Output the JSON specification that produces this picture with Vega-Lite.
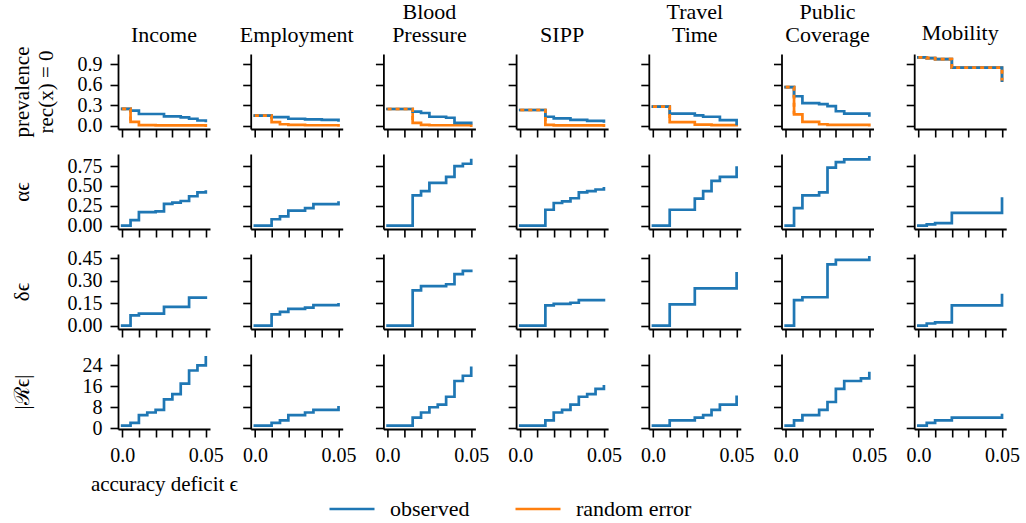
{
"$schema":"https://vega.github.io/schema/vega-lite/v6.json",
"padding":{"left":11,"top":1,"right":5,"bottom":3},
"autosize":{"type":"pad"},
"bounds":"flush",
"columns":7,
"spacing":{"row":25,"column":40.7},
"resolve":{"scale":{"x":"independent","y":"independent","color":"shared"}},
"data":{"values":[
{"d":"Income","m":"prev","s":"observed","x":0,"y":0.245},{"d":"Income","m":"prev","s":"observed","x":0.005,"y":0.22},{"d":"Income","m":"prev","s":"observed","x":0.01,"y":0.17},{"d":"Income","m":"prev","s":"observed","x":0.025,"y":0.135},{"d":"Income","m":"prev","s":"observed","x":0.035,"y":0.12},{"d":"Income","m":"prev","s":"observed","x":0.04,"y":0.1},{"d":"Income","m":"prev","s":"observed","x":0.045,"y":0.075},{"d":"Income","m":"prev","s":"observed","x":0.05,"y":0.07},
{"d":"Employment","m":"prev","s":"observed","x":0,"y":0.146},{"d":"Employment","m":"prev","s":"observed","x":0.01,"y":0.125},{"d":"Employment","m":"prev","s":"observed","x":0.02,"y":0.1},{"d":"Employment","m":"prev","s":"observed","x":0.03,"y":0.09},{"d":"Employment","m":"prev","s":"observed","x":0.04,"y":0.085},{"d":"Employment","m":"prev","s":"observed","x":0.05,"y":0.075},
{"d":"Blood Pressure","m":"prev","s":"observed","x":0,"y":0.243},{"d":"Blood Pressure","m":"prev","s":"observed","x":0.015,"y":0.205},{"d":"Blood Pressure","m":"prev","s":"observed","x":0.02,"y":0.185},{"d":"Blood Pressure","m":"prev","s":"observed","x":0.025,"y":0.13},{"d":"Blood Pressure","m":"prev","s":"observed","x":0.035,"y":0.115},{"d":"Blood Pressure","m":"prev","s":"observed","x":0.04,"y":0.04},{"d":"Blood Pressure","m":"prev","s":"observed","x":0.05,"y":0.035},
{"d":"SIPP","m":"prev","s":"observed","x":0,"y":0.229},{"d":"SIPP","m":"prev","s":"observed","x":0.015,"y":0.13},{"d":"SIPP","m":"prev","s":"observed","x":0.02,"y":0.105},{"d":"SIPP","m":"prev","s":"observed","x":0.03,"y":0.085},{"d":"SIPP","m":"prev","s":"observed","x":0.04,"y":0.07},{"d":"SIPP","m":"prev","s":"observed","x":0.05,"y":0.06},
{"d":"Travel Time","m":"prev","s":"observed","x":0,"y":0.277},{"d":"Travel Time","m":"prev","s":"observed","x":0.01,"y":0.175},{"d":"Travel Time","m":"prev","s":"observed","x":0.025,"y":0.15},{"d":"Travel Time","m":"prev","s":"observed","x":0.03,"y":0.13},{"d":"Travel Time","m":"prev","s":"observed","x":0.04,"y":0.08},{"d":"Travel Time","m":"prev","s":"observed","x":0.05,"y":0.025},
{"d":"Public Coverage","m":"prev","s":"observed","x":0,"y":0.564},{"d":"Public Coverage","m":"prev","s":"observed","x":0.005,"y":0.43},{"d":"Public Coverage","m":"prev","s":"observed","x":0.01,"y":0.33},{"d":"Public Coverage","m":"prev","s":"observed","x":0.02,"y":0.315},{"d":"Public Coverage","m":"prev","s":"observed","x":0.025,"y":0.285},{"d":"Public Coverage","m":"prev","s":"observed","x":0.03,"y":0.21},{"d":"Public Coverage","m":"prev","s":"observed","x":0.035,"y":0.175},{"d":"Public Coverage","m":"prev","s":"observed","x":0.05,"y":0.15},
{"d":"Mobility","m":"prev","s":"observed","x":0,"y":1.0},{"d":"Mobility","m":"prev","s":"observed","x":0.005,"y":0.99},{"d":"Mobility","m":"prev","s":"observed","x":0.01,"y":0.975},{"d":"Mobility","m":"prev","s":"observed","x":0.02,"y":0.85},{"d":"Mobility","m":"prev","s":"observed","x":0.05,"y":0.66},
{"d":"Income","m":"prev","s":"random error","x":0,"y":0.245,"b":1},{"d":"Income","m":"prev","s":"random error","x":0.005,"y":0.055,"b":1},{"d":"Income","m":"prev","s":"random error","x":0.01,"y":0.008},{"d":"Income","m":"prev","s":"random error","x":0.02,"y":0.002},{"d":"Income","m":"prev","s":"random error","x":0.05,"y":0.0},
{"d":"Employment","m":"prev","s":"random error","x":0,"y":0.146,"b":1},{"d":"Employment","m":"prev","s":"random error","x":0.01,"y":0.05,"b":1},{"d":"Employment","m":"prev","s":"random error","x":0.015,"y":0.02},{"d":"Employment","m":"prev","s":"random error","x":0.02,"y":0.01},{"d":"Employment","m":"prev","s":"random error","x":0.03,"y":0.005},{"d":"Employment","m":"prev","s":"random error","x":0.05,"y":0.003},
{"d":"Blood Pressure","m":"prev","s":"random error","x":0,"y":0.243,"b":1},{"d":"Blood Pressure","m":"prev","s":"random error","x":0.015,"y":0.04,"b":1},{"d":"Blood Pressure","m":"prev","s":"random error","x":0.02,"y":0.01},{"d":"Blood Pressure","m":"prev","s":"random error","x":0.025,"y":0.005},{"d":"Blood Pressure","m":"prev","s":"random error","x":0.05,"y":0.0},
{"d":"SIPP","m":"prev","s":"random error","x":0,"y":0.229,"b":1},{"d":"SIPP","m":"prev","s":"random error","x":0.015,"y":0.01,"b":1},{"d":"SIPP","m":"prev","s":"random error","x":0.02,"y":0.003},{"d":"SIPP","m":"prev","s":"random error","x":0.05,"y":0.0},
{"d":"Travel Time","m":"prev","s":"random error","x":0,"y":0.277,"b":1},{"d":"Travel Time","m":"prev","s":"random error","x":0.01,"y":0.05,"b":1},{"d":"Travel Time","m":"prev","s":"random error","x":0.025,"y":0.015},{"d":"Travel Time","m":"prev","s":"random error","x":0.035,"y":0.008},{"d":"Travel Time","m":"prev","s":"random error","x":0.05,"y":0.005},
{"d":"Public Coverage","m":"prev","s":"random error","x":0,"y":0.564,"b":1},{"d":"Public Coverage","m":"prev","s":"random error","x":0.005,"y":0.165,"b":1},{"d":"Public Coverage","m":"prev","s":"random error","x":0.01,"y":0.055},{"d":"Public Coverage","m":"prev","s":"random error","x":0.02,"y":0.02},{"d":"Public Coverage","m":"prev","s":"random error","x":0.025,"y":0.01},{"d":"Public Coverage","m":"prev","s":"random error","x":0.05,"y":0.005},
{"d":"Mobility","m":"prev","s":"random error","x":0,"y":1.0,"b":1},{"d":"Mobility","m":"prev","s":"random error","x":0.005,"y":0.99,"b":1},{"d":"Mobility","m":"prev","s":"random error","x":0.01,"y":0.975,"b":1},{"d":"Mobility","m":"prev","s":"random error","x":0.02,"y":0.85,"b":1},{"d":"Mobility","m":"prev","s":"random error","x":0.05,"y":0.66,"b":1},
{"d":"Income","m":"alpha","s":"observed","x":0,"y":0},{"d":"Income","m":"alpha","s":"observed","x":0.005,"y":0.07},{"d":"Income","m":"alpha","s":"observed","x":0.01,"y":0.17},{"d":"Income","m":"alpha","s":"observed","x":0.02,"y":0.18},{"d":"Income","m":"alpha","s":"observed","x":0.025,"y":0.275},{"d":"Income","m":"alpha","s":"observed","x":0.03,"y":0.29},{"d":"Income","m":"alpha","s":"observed","x":0.035,"y":0.31},{"d":"Income","m":"alpha","s":"observed","x":0.04,"y":0.37},{"d":"Income","m":"alpha","s":"observed","x":0.045,"y":0.42},{"d":"Income","m":"alpha","s":"observed","x":0.05,"y":0.43},
{"d":"Employment","m":"alpha","s":"observed","x":0,"y":0},{"d":"Employment","m":"alpha","s":"observed","x":0.01,"y":0.08},{"d":"Employment","m":"alpha","s":"observed","x":0.015,"y":0.115},{"d":"Employment","m":"alpha","s":"observed","x":0.02,"y":0.19},{"d":"Employment","m":"alpha","s":"observed","x":0.03,"y":0.22},{"d":"Employment","m":"alpha","s":"observed","x":0.035,"y":0.27},{"d":"Employment","m":"alpha","s":"observed","x":0.05,"y":0.29},
{"d":"Blood Pressure","m":"alpha","s":"observed","x":0,"y":0},{"d":"Blood Pressure","m":"alpha","s":"observed","x":0.015,"y":0.38},{"d":"Blood Pressure","m":"alpha","s":"observed","x":0.02,"y":0.435},{"d":"Blood Pressure","m":"alpha","s":"observed","x":0.025,"y":0.54},{"d":"Blood Pressure","m":"alpha","s":"observed","x":0.035,"y":0.615},{"d":"Blood Pressure","m":"alpha","s":"observed","x":0.04,"y":0.75},{"d":"Blood Pressure","m":"alpha","s":"observed","x":0.045,"y":0.78},{"d":"Blood Pressure","m":"alpha","s":"observed","x":0.05,"y":0.825},
{"d":"SIPP","m":"alpha","s":"observed","x":0,"y":0},{"d":"SIPP","m":"alpha","s":"observed","x":0.015,"y":0.2},{"d":"SIPP","m":"alpha","s":"observed","x":0.02,"y":0.285},{"d":"SIPP","m":"alpha","s":"observed","x":0.025,"y":0.305},{"d":"SIPP","m":"alpha","s":"observed","x":0.03,"y":0.345},{"d":"SIPP","m":"alpha","s":"observed","x":0.035,"y":0.42},{"d":"SIPP","m":"alpha","s":"observed","x":0.04,"y":0.435},{"d":"SIPP","m":"alpha","s":"observed","x":0.045,"y":0.455},{"d":"SIPP","m":"alpha","s":"observed","x":0.05,"y":0.47},
{"d":"Travel Time","m":"alpha","s":"observed","x":0,"y":0},{"d":"Travel Time","m":"alpha","s":"observed","x":0.01,"y":0.2},{"d":"Travel Time","m":"alpha","s":"observed","x":0.025,"y":0.34},{"d":"Travel Time","m":"alpha","s":"observed","x":0.03,"y":0.435},{"d":"Travel Time","m":"alpha","s":"observed","x":0.035,"y":0.565},{"d":"Travel Time","m":"alpha","s":"observed","x":0.04,"y":0.615},{"d":"Travel Time","m":"alpha","s":"observed","x":0.05,"y":0.73},
{"d":"Public Coverage","m":"alpha","s":"observed","x":0,"y":0},{"d":"Public Coverage","m":"alpha","s":"observed","x":0.005,"y":0.22},{"d":"Public Coverage","m":"alpha","s":"observed","x":0.01,"y":0.38},{"d":"Public Coverage","m":"alpha","s":"observed","x":0.02,"y":0.42},{"d":"Public Coverage","m":"alpha","s":"observed","x":0.025,"y":0.73},{"d":"Public Coverage","m":"alpha","s":"observed","x":0.03,"y":0.8},{"d":"Public Coverage","m":"alpha","s":"observed","x":0.035,"y":0.835},{"d":"Public Coverage","m":"alpha","s":"observed","x":0.05,"y":0.86},
{"d":"Mobility","m":"alpha","s":"observed","x":0,"y":0},{"d":"Mobility","m":"alpha","s":"observed","x":0.005,"y":0.015},{"d":"Mobility","m":"alpha","s":"observed","x":0.01,"y":0.03},{"d":"Mobility","m":"alpha","s":"observed","x":0.02,"y":0.16},{"d":"Mobility","m":"alpha","s":"observed","x":0.05,"y":0.34},
{"d":"Income","m":"delta","s":"observed","x":0,"y":0},{"d":"Income","m":"delta","s":"observed","x":0.005,"y":0.068},{"d":"Income","m":"delta","s":"observed","x":0.01,"y":0.08},{"d":"Income","m":"delta","s":"observed","x":0.025,"y":0.125},{"d":"Income","m":"delta","s":"observed","x":0.04,"y":0.187},{"d":"Income","m":"delta","s":"observed","x":0.05,"y":0.187},
{"d":"Employment","m":"delta","s":"observed","x":0,"y":0},{"d":"Employment","m":"delta","s":"observed","x":0.01,"y":0.075},{"d":"Employment","m":"delta","s":"observed","x":0.015,"y":0.092},{"d":"Employment","m":"delta","s":"observed","x":0.02,"y":0.112},{"d":"Employment","m":"delta","s":"observed","x":0.03,"y":0.12},{"d":"Employment","m":"delta","s":"observed","x":0.035,"y":0.137},{"d":"Employment","m":"delta","s":"observed","x":0.05,"y":0.142},
{"d":"Blood Pressure","m":"delta","s":"observed","x":0,"y":0},{"d":"Blood Pressure","m":"delta","s":"observed","x":0.015,"y":0.236},{"d":"Blood Pressure","m":"delta","s":"observed","x":0.02,"y":0.265},{"d":"Blood Pressure","m":"delta","s":"observed","x":0.035,"y":0.277},{"d":"Blood Pressure","m":"delta","s":"observed","x":0.04,"y":0.345},{"d":"Blood Pressure","m":"delta","s":"observed","x":0.045,"y":0.367},{"d":"Blood Pressure","m":"delta","s":"observed","x":0.05,"y":0.367},
{"d":"SIPP","m":"delta","s":"observed","x":0,"y":0},{"d":"SIPP","m":"delta","s":"observed","x":0.015,"y":0.135},{"d":"SIPP","m":"delta","s":"observed","x":0.02,"y":0.146},{"d":"SIPP","m":"delta","s":"observed","x":0.03,"y":0.153},{"d":"SIPP","m":"delta","s":"observed","x":0.035,"y":0.171},{"d":"SIPP","m":"delta","s":"observed","x":0.05,"y":0.171},
{"d":"Travel Time","m":"delta","s":"observed","x":0,"y":0},{"d":"Travel Time","m":"delta","s":"observed","x":0.01,"y":0.142},{"d":"Travel Time","m":"delta","s":"observed","x":0.025,"y":0.25},{"d":"Travel Time","m":"delta","s":"observed","x":0.05,"y":0.35},
{"d":"Public Coverage","m":"delta","s":"observed","x":0,"y":0},{"d":"Public Coverage","m":"delta","s":"observed","x":0.005,"y":0.171},{"d":"Public Coverage","m":"delta","s":"observed","x":0.01,"y":0.19},{"d":"Public Coverage","m":"delta","s":"observed","x":0.025,"y":0.41},{"d":"Public Coverage","m":"delta","s":"observed","x":0.03,"y":0.44},{"d":"Public Coverage","m":"delta","s":"observed","x":0.05,"y":0.457},
{"d":"Mobility","m":"delta","s":"observed","x":0,"y":0},{"d":"Mobility","m":"delta","s":"observed","x":0.005,"y":0.014},{"d":"Mobility","m":"delta","s":"observed","x":0.01,"y":0.022},{"d":"Mobility","m":"delta","s":"observed","x":0.02,"y":0.135},{"d":"Mobility","m":"delta","s":"observed","x":0.05,"y":0.205},
{"d":"Income","m":"R","s":"observed","x":0,"y":1},{"d":"Income","m":"R","s":"observed","x":0.005,"y":2},{"d":"Income","m":"R","s":"observed","x":0.01,"y":5},{"d":"Income","m":"R","s":"observed","x":0.015,"y":6},{"d":"Income","m":"R","s":"observed","x":0.02,"y":7},{"d":"Income","m":"R","s":"observed","x":0.025,"y":11},{"d":"Income","m":"R","s":"observed","x":0.03,"y":13},{"d":"Income","m":"R","s":"observed","x":0.035,"y":17},{"d":"Income","m":"R","s":"observed","x":0.04,"y":22},{"d":"Income","m":"R","s":"observed","x":0.045,"y":24},{"d":"Income","m":"R","s":"observed","x":0.05,"y":27},
{"d":"Employment","m":"R","s":"observed","x":0,"y":1},{"d":"Employment","m":"R","s":"observed","x":0.01,"y":2},{"d":"Employment","m":"R","s":"observed","x":0.015,"y":3},{"d":"Employment","m":"R","s":"observed","x":0.02,"y":5},{"d":"Employment","m":"R","s":"observed","x":0.03,"y":6},{"d":"Employment","m":"R","s":"observed","x":0.035,"y":7},{"d":"Employment","m":"R","s":"observed","x":0.05,"y":8},
{"d":"Blood Pressure","m":"R","s":"observed","x":0,"y":1},{"d":"Blood Pressure","m":"R","s":"observed","x":0.015,"y":4},{"d":"Blood Pressure","m":"R","s":"observed","x":0.02,"y":6},{"d":"Blood Pressure","m":"R","s":"observed","x":0.025,"y":8},{"d":"Blood Pressure","m":"R","s":"observed","x":0.03,"y":9},{"d":"Blood Pressure","m":"R","s":"observed","x":0.035,"y":12},{"d":"Blood Pressure","m":"R","s":"observed","x":0.04,"y":18},{"d":"Blood Pressure","m":"R","s":"observed","x":0.045,"y":20},{"d":"Blood Pressure","m":"R","s":"observed","x":0.05,"y":23},
{"d":"SIPP","m":"R","s":"observed","x":0,"y":1},{"d":"SIPP","m":"R","s":"observed","x":0.015,"y":3},{"d":"SIPP","m":"R","s":"observed","x":0.02,"y":6},{"d":"SIPP","m":"R","s":"observed","x":0.025,"y":7},{"d":"SIPP","m":"R","s":"observed","x":0.03,"y":9},{"d":"SIPP","m":"R","s":"observed","x":0.035,"y":12},{"d":"SIPP","m":"R","s":"observed","x":0.04,"y":13},{"d":"SIPP","m":"R","s":"observed","x":0.045,"y":15},{"d":"SIPP","m":"R","s":"observed","x":0.05,"y":16},
{"d":"Travel Time","m":"R","s":"observed","x":0,"y":1},{"d":"Travel Time","m":"R","s":"observed","x":0.01,"y":3},{"d":"Travel Time","m":"R","s":"observed","x":0.025,"y":4},{"d":"Travel Time","m":"R","s":"observed","x":0.03,"y":5},{"d":"Travel Time","m":"R","s":"observed","x":0.035,"y":7},{"d":"Travel Time","m":"R","s":"observed","x":0.04,"y":9},{"d":"Travel Time","m":"R","s":"observed","x":0.05,"y":12},
{"d":"Public Coverage","m":"R","s":"observed","x":0,"y":1},{"d":"Public Coverage","m":"R","s":"observed","x":0.005,"y":3},{"d":"Public Coverage","m":"R","s":"observed","x":0.01,"y":5},{"d":"Public Coverage","m":"R","s":"observed","x":0.02,"y":7},{"d":"Public Coverage","m":"R","s":"observed","x":0.025,"y":10},{"d":"Public Coverage","m":"R","s":"observed","x":0.03,"y":15},{"d":"Public Coverage","m":"R","s":"observed","x":0.035,"y":18},{"d":"Public Coverage","m":"R","s":"observed","x":0.045,"y":19},{"d":"Public Coverage","m":"R","s":"observed","x":0.05,"y":21},
{"d":"Mobility","m":"R","s":"observed","x":0,"y":1},{"d":"Mobility","m":"R","s":"observed","x":0.005,"y":2},{"d":"Mobility","m":"R","s":"observed","x":0.01,"y":3},{"d":"Mobility","m":"R","s":"observed","x":0.02,"y":4},{"d":"Mobility","m":"R","s":"observed","x":0.05,"y":5}
]},
"concat":[
{"width":92,"height":75,"title":{"text":"Income","dy":8},"transform":[{"filter":"datum.d=='Income'&&datum.m=='prev'"}],
 "encoding":{"x":{"field":"x","type":"quantitative","scale":{"domain":[-0.0025,0.0525],"nice":false,"zero":false},"axis":{"values":[0,0.01,0.02,0.03,0.04,0.05],"labels":false,"title":null}},
  "y":{"field":"y","type":"quantitative","scale":{"domain":[-0.05,1.05],"nice":false,"zero":false},"axis":{"values":[0,0.3,0.6,0.9],"format":".1f","title":["prevalence","rec(x) = 0"],"titleX":-86}}},
 "layer":[
  {"transform":[{"filter":"datum.s=='random error'"}],"mark":"line","encoding":{"color":{"field":"s","type":"nominal","legend":{"orient":"none","legendX":210,"legendY":431,"direction":"horizontal","title":null}}}},
  {"transform":[{"filter":"datum.s=='observed'"}],"mark":"line","encoding":{"color":{"field":"s","type":"nominal","legend":{"orient":"none","legendX":210,"legendY":431,"direction":"horizontal","title":null}}}},
  {"transform":[{"filter":"datum.b==1"}],"mark":{"type":"line","color":"#ff7f0e","strokeDash":[4,4],"strokeCap":"butt"},"encoding":{}}]},
{"width":92,"height":75,"title":"Employment","transform":[{"filter":"datum.d=='Employment'&&datum.m=='prev'"}],
 "encoding":{"x":{"field":"x","type":"quantitative","scale":{"domain":[-0.0025,0.0525],"nice":false,"zero":false},"axis":{"values":[0,0.01,0.02,0.03,0.04,0.05],"labels":false,"title":null}},
  "y":{"field":"y","type":"quantitative","scale":{"domain":[-0.05,1.05],"nice":false,"zero":false},"axis":{"values":[0,0.3,0.6,0.9],"labels":false,"title":null}}},
 "layer":[
  {"transform":[{"filter":"datum.s=='random error'"}],"mark":"line","encoding":{"color":{"field":"s","type":"nominal"}}},
  {"transform":[{"filter":"datum.s=='observed'"}],"mark":"line","encoding":{"color":{"field":"s","type":"nominal"}}},
  {"transform":[{"filter":"datum.b==1"}],"mark":{"type":"line","color":"#ff7f0e","strokeDash":[4,4],"strokeCap":"butt"},"encoding":{}}]},
{"width":92,"height":75,"title":["Blood","Pressure"],"transform":[{"filter":"datum.d=='Blood Pressure'&&datum.m=='prev'"}],
 "encoding":{"x":{"field":"x","type":"quantitative","scale":{"domain":[-0.0025,0.0525],"nice":false,"zero":false},"axis":{"values":[0,0.01,0.02,0.03,0.04,0.05],"labels":false,"title":null}},
  "y":{"field":"y","type":"quantitative","scale":{"domain":[-0.05,1.05],"nice":false,"zero":false},"axis":{"values":[0,0.3,0.6,0.9],"labels":false,"title":null}}},
 "layer":[
  {"transform":[{"filter":"datum.s=='random error'"}],"mark":"line","encoding":{"color":{"field":"s","type":"nominal"}}},
  {"transform":[{"filter":"datum.s=='observed'"}],"mark":"line","encoding":{"color":{"field":"s","type":"nominal"}}},
  {"transform":[{"filter":"datum.b==1"}],"mark":{"type":"line","color":"#ff7f0e","strokeDash":[4,4],"strokeCap":"butt"},"encoding":{}}]},
{"width":92,"height":75,"title":"SIPP","transform":[{"filter":"datum.d=='SIPP'&&datum.m=='prev'"}],
 "encoding":{"x":{"field":"x","type":"quantitative","scale":{"domain":[-0.0025,0.0525],"nice":false,"zero":false},"axis":{"values":[0,0.01,0.02,0.03,0.04,0.05],"labels":false,"title":null}},
  "y":{"field":"y","type":"quantitative","scale":{"domain":[-0.05,1.05],"nice":false,"zero":false},"axis":{"values":[0,0.3,0.6,0.9],"labels":false,"title":null}}},
 "layer":[
  {"transform":[{"filter":"datum.s=='random error'"}],"mark":"line","encoding":{"color":{"field":"s","type":"nominal"}}},
  {"transform":[{"filter":"datum.s=='observed'"}],"mark":"line","encoding":{"color":{"field":"s","type":"nominal"}}},
  {"transform":[{"filter":"datum.b==1"}],"mark":{"type":"line","color":"#ff7f0e","strokeDash":[4,4],"strokeCap":"butt"},"encoding":{}}]},
{"width":92,"height":75,"title":["Travel","Time"],"transform":[{"filter":"datum.d=='Travel Time'&&datum.m=='prev'"}],
 "encoding":{"x":{"field":"x","type":"quantitative","scale":{"domain":[-0.0025,0.0525],"nice":false,"zero":false},"axis":{"values":[0,0.01,0.02,0.03,0.04,0.05],"labels":false,"title":null}},
  "y":{"field":"y","type":"quantitative","scale":{"domain":[-0.05,1.05],"nice":false,"zero":false},"axis":{"values":[0,0.3,0.6,0.9],"labels":false,"title":null}}},
 "layer":[
  {"transform":[{"filter":"datum.s=='random error'"}],"mark":"line","encoding":{"color":{"field":"s","type":"nominal"}}},
  {"transform":[{"filter":"datum.s=='observed'"}],"mark":"line","encoding":{"color":{"field":"s","type":"nominal"}}},
  {"transform":[{"filter":"datum.b==1"}],"mark":{"type":"line","color":"#ff7f0e","strokeDash":[4,4],"strokeCap":"butt"},"encoding":{}}]},
{"width":92,"height":75,"title":["Public","Coverage"],"transform":[{"filter":"datum.d=='Public Coverage'&&datum.m=='prev'"}],
 "encoding":{"x":{"field":"x","type":"quantitative","scale":{"domain":[-0.0025,0.0525],"nice":false,"zero":false},"axis":{"values":[0,0.01,0.02,0.03,0.04,0.05],"labels":false,"title":null}},
  "y":{"field":"y","type":"quantitative","scale":{"domain":[-0.05,1.05],"nice":false,"zero":false},"axis":{"values":[0,0.3,0.6,0.9],"labels":false,"title":null}}},
 "layer":[
  {"transform":[{"filter":"datum.s=='random error'"}],"mark":"line","encoding":{"color":{"field":"s","type":"nominal"}}},
  {"transform":[{"filter":"datum.s=='observed'"}],"mark":"line","encoding":{"color":{"field":"s","type":"nominal"}}},
  {"transform":[{"filter":"datum.b==1"}],"mark":{"type":"line","color":"#ff7f0e","strokeDash":[4,4],"strokeCap":"butt"},"encoding":{}}]},
{"width":92,"height":75,"title":"Mobility","transform":[{"filter":"datum.d=='Mobility'&&datum.m=='prev'"}],
 "encoding":{"x":{"field":"x","type":"quantitative","scale":{"domain":[-0.0025,0.0525],"nice":false,"zero":false},"axis":{"values":[0,0.01,0.02,0.03,0.04,0.05],"labels":false,"title":null}},
  "y":{"field":"y","type":"quantitative","scale":{"domain":[-0.05,1.05],"nice":false,"zero":false},"axis":{"values":[0,0.3,0.6,0.9],"labels":false,"title":null}}},
 "layer":[
  {"transform":[{"filter":"datum.s=='random error'"}],"mark":"line","encoding":{"color":{"field":"s","type":"nominal"}}},
  {"transform":[{"filter":"datum.s=='observed'"}],"mark":"line","encoding":{"color":{"field":"s","type":"nominal"}}},
  {"transform":[{"filter":"datum.b==1"}],"mark":{"type":"line","color":"#ff7f0e","strokeDash":[4,4],"strokeCap":"butt"},"encoding":{}}]},

{"width":92,"height":75,"transform":[{"filter":"datum.d=='Income'&&datum.m=='alpha'"}],"mark":"line","encoding":{"x":{"field":"x","type":"quantitative","scale":{"domain":[-0.0025,0.0525],"nice":false,"zero":false},"axis":{"values":[0,0.01,0.02,0.03,0.04,0.05],"labels":false,"title":null}},"y":{"field":"y","type":"quantitative","scale":{"domain":[-0.043,0.903],"nice":false,"zero":false},"axis":{"values":[0,0.25,0.5,0.75],"format":".2f","title":"αϵ","titleX":-86}},"color":{"field":"s","type":"nominal"}}},
{"width":92,"height":75,"transform":[{"filter":"datum.d=='Employment'&&datum.m=='alpha'"}],"mark":"line","encoding":{"x":{"field":"x","type":"quantitative","scale":{"domain":[-0.0025,0.0525],"nice":false,"zero":false},"axis":{"values":[0,0.01,0.02,0.03,0.04,0.05],"labels":false,"title":null}},"y":{"field":"y","type":"quantitative","scale":{"domain":[-0.043,0.903],"nice":false,"zero":false},"axis":{"values":[0,0.25,0.5,0.75],"labels":false,"title":null}},"color":{"field":"s","type":"nominal"}}},
{"width":92,"height":75,"transform":[{"filter":"datum.d=='Blood Pressure'&&datum.m=='alpha'"}],"mark":"line","encoding":{"x":{"field":"x","type":"quantitative","scale":{"domain":[-0.0025,0.0525],"nice":false,"zero":false},"axis":{"values":[0,0.01,0.02,0.03,0.04,0.05],"labels":false,"title":null}},"y":{"field":"y","type":"quantitative","scale":{"domain":[-0.043,0.903],"nice":false,"zero":false},"axis":{"values":[0,0.25,0.5,0.75],"labels":false,"title":null}},"color":{"field":"s","type":"nominal"}}},
{"width":92,"height":75,"transform":[{"filter":"datum.d=='SIPP'&&datum.m=='alpha'"}],"mark":"line","encoding":{"x":{"field":"x","type":"quantitative","scale":{"domain":[-0.0025,0.0525],"nice":false,"zero":false},"axis":{"values":[0,0.01,0.02,0.03,0.04,0.05],"labels":false,"title":null}},"y":{"field":"y","type":"quantitative","scale":{"domain":[-0.043,0.903],"nice":false,"zero":false},"axis":{"values":[0,0.25,0.5,0.75],"labels":false,"title":null}},"color":{"field":"s","type":"nominal"}}},
{"width":92,"height":75,"transform":[{"filter":"datum.d=='Travel Time'&&datum.m=='alpha'"}],"mark":"line","encoding":{"x":{"field":"x","type":"quantitative","scale":{"domain":[-0.0025,0.0525],"nice":false,"zero":false},"axis":{"values":[0,0.01,0.02,0.03,0.04,0.05],"labels":false,"title":null}},"y":{"field":"y","type":"quantitative","scale":{"domain":[-0.043,0.903],"nice":false,"zero":false},"axis":{"values":[0,0.25,0.5,0.75],"labels":false,"title":null}},"color":{"field":"s","type":"nominal"}}},
{"width":92,"height":75,"transform":[{"filter":"datum.d=='Public Coverage'&&datum.m=='alpha'"}],"mark":"line","encoding":{"x":{"field":"x","type":"quantitative","scale":{"domain":[-0.0025,0.0525],"nice":false,"zero":false},"axis":{"values":[0,0.01,0.02,0.03,0.04,0.05],"labels":false,"title":null}},"y":{"field":"y","type":"quantitative","scale":{"domain":[-0.043,0.903],"nice":false,"zero":false},"axis":{"values":[0,0.25,0.5,0.75],"labels":false,"title":null}},"color":{"field":"s","type":"nominal"}}},
{"width":92,"height":75,"transform":[{"filter":"datum.d=='Mobility'&&datum.m=='alpha'"}],"mark":"line","encoding":{"x":{"field":"x","type":"quantitative","scale":{"domain":[-0.0025,0.0525],"nice":false,"zero":false},"axis":{"values":[0,0.01,0.02,0.03,0.04,0.05],"labels":false,"title":null}},"y":{"field":"y","type":"quantitative","scale":{"domain":[-0.043,0.903],"nice":false,"zero":false},"axis":{"values":[0,0.25,0.5,0.75],"labels":false,"title":null}},"color":{"field":"s","type":"nominal"}}},

{"width":92,"height":75,"transform":[{"filter":"datum.d=='Income'&&datum.m=='delta'"}],"mark":"line","encoding":{"x":{"field":"x","type":"quantitative","scale":{"domain":[-0.0025,0.0525],"nice":false,"zero":false},"axis":{"values":[0,0.01,0.02,0.03,0.04,0.05],"labels":false,"title":null}},"y":{"field":"y","type":"quantitative","scale":{"domain":[-0.023,0.48],"nice":false,"zero":false},"axis":{"values":[0,0.15,0.3,0.45],"format":".2f","title":"δϵ","titleX":-86}},"color":{"field":"s","type":"nominal"}}},
{"width":92,"height":75,"transform":[{"filter":"datum.d=='Employment'&&datum.m=='delta'"}],"mark":"line","encoding":{"x":{"field":"x","type":"quantitative","scale":{"domain":[-0.0025,0.0525],"nice":false,"zero":false},"axis":{"values":[0,0.01,0.02,0.03,0.04,0.05],"labels":false,"title":null}},"y":{"field":"y","type":"quantitative","scale":{"domain":[-0.023,0.48],"nice":false,"zero":false},"axis":{"values":[0,0.15,0.3,0.45],"labels":false,"title":null}},"color":{"field":"s","type":"nominal"}}},
{"width":92,"height":75,"transform":[{"filter":"datum.d=='Blood Pressure'&&datum.m=='delta'"}],"mark":"line","encoding":{"x":{"field":"x","type":"quantitative","scale":{"domain":[-0.0025,0.0525],"nice":false,"zero":false},"axis":{"values":[0,0.01,0.02,0.03,0.04,0.05],"labels":false,"title":null}},"y":{"field":"y","type":"quantitative","scale":{"domain":[-0.023,0.48],"nice":false,"zero":false},"axis":{"values":[0,0.15,0.3,0.45],"labels":false,"title":null}},"color":{"field":"s","type":"nominal"}}},
{"width":92,"height":75,"transform":[{"filter":"datum.d=='SIPP'&&datum.m=='delta'"}],"mark":"line","encoding":{"x":{"field":"x","type":"quantitative","scale":{"domain":[-0.0025,0.0525],"nice":false,"zero":false},"axis":{"values":[0,0.01,0.02,0.03,0.04,0.05],"labels":false,"title":null}},"y":{"field":"y","type":"quantitative","scale":{"domain":[-0.023,0.48],"nice":false,"zero":false},"axis":{"values":[0,0.15,0.3,0.45],"labels":false,"title":null}},"color":{"field":"s","type":"nominal"}}},
{"width":92,"height":75,"transform":[{"filter":"datum.d=='Travel Time'&&datum.m=='delta'"}],"mark":"line","encoding":{"x":{"field":"x","type":"quantitative","scale":{"domain":[-0.0025,0.0525],"nice":false,"zero":false},"axis":{"values":[0,0.01,0.02,0.03,0.04,0.05],"labels":false,"title":null}},"y":{"field":"y","type":"quantitative","scale":{"domain":[-0.023,0.48],"nice":false,"zero":false},"axis":{"values":[0,0.15,0.3,0.45],"labels":false,"title":null}},"color":{"field":"s","type":"nominal"}}},
{"width":92,"height":75,"transform":[{"filter":"datum.d=='Public Coverage'&&datum.m=='delta'"}],"mark":"line","encoding":{"x":{"field":"x","type":"quantitative","scale":{"domain":[-0.0025,0.0525],"nice":false,"zero":false},"axis":{"values":[0,0.01,0.02,0.03,0.04,0.05],"labels":false,"title":null}},"y":{"field":"y","type":"quantitative","scale":{"domain":[-0.023,0.48],"nice":false,"zero":false},"axis":{"values":[0,0.15,0.3,0.45],"labels":false,"title":null}},"color":{"field":"s","type":"nominal"}}},
{"width":92,"height":75,"transform":[{"filter":"datum.d=='Mobility'&&datum.m=='delta'"}],"mark":"line","encoding":{"x":{"field":"x","type":"quantitative","scale":{"domain":[-0.0025,0.0525],"nice":false,"zero":false},"axis":{"values":[0,0.01,0.02,0.03,0.04,0.05],"labels":false,"title":null}},"y":{"field":"y","type":"quantitative","scale":{"domain":[-0.023,0.48],"nice":false,"zero":false},"axis":{"values":[0,0.15,0.3,0.45],"labels":false,"title":null}},"color":{"field":"s","type":"nominal"}}},

{"width":92,"height":75,"transform":[{"filter":"datum.d=='Income'&&datum.m=='R'"}],"mark":"line","encoding":{"x":{"field":"x","type":"quantitative","scale":{"domain":[-0.0025,0.0525],"nice":false,"zero":false},"axis":{"values":[0,0.01,0.02,0.03,0.04,0.05],"labelExpr":"datum.value==0?'0.0':datum.value==0.05?'0.05':''","title":"accuracy deficit ϵ"}},"y":{"field":"y","type":"quantitative","scale":{"domain":[-0.3,28.3],"nice":false,"zero":false},"axis":{"values":[0,8,16,24],"format":"d","title":"|ℛϵ|","titleX":-86}},"color":{"field":"s","type":"nominal"}}},
{"width":92,"height":75,"transform":[{"filter":"datum.d=='Employment'&&datum.m=='R'"}],"mark":"line","encoding":{"x":{"field":"x","type":"quantitative","scale":{"domain":[-0.0025,0.0525],"nice":false,"zero":false},"axis":{"values":[0,0.01,0.02,0.03,0.04,0.05],"labelExpr":"datum.value==0?'0.0':datum.value==0.05?'0.05':''","title":null}},"y":{"field":"y","type":"quantitative","scale":{"domain":[-0.3,28.3],"nice":false,"zero":false},"axis":{"values":[0,8,16,24],"labels":false,"title":null}},"color":{"field":"s","type":"nominal"}}},
{"width":92,"height":75,"transform":[{"filter":"datum.d=='Blood Pressure'&&datum.m=='R'"}],"mark":"line","encoding":{"x":{"field":"x","type":"quantitative","scale":{"domain":[-0.0025,0.0525],"nice":false,"zero":false},"axis":{"values":[0,0.01,0.02,0.03,0.04,0.05],"labelExpr":"datum.value==0?'0.0':datum.value==0.05?'0.05':''","title":null}},"y":{"field":"y","type":"quantitative","scale":{"domain":[-0.3,28.3],"nice":false,"zero":false},"axis":{"values":[0,8,16,24],"labels":false,"title":null}},"color":{"field":"s","type":"nominal"}}},
{"width":92,"height":75,"transform":[{"filter":"datum.d=='SIPP'&&datum.m=='R'"}],"mark":"line","encoding":{"x":{"field":"x","type":"quantitative","scale":{"domain":[-0.0025,0.0525],"nice":false,"zero":false},"axis":{"values":[0,0.01,0.02,0.03,0.04,0.05],"labelExpr":"datum.value==0?'0.0':datum.value==0.05?'0.05':''","title":null}},"y":{"field":"y","type":"quantitative","scale":{"domain":[-0.3,28.3],"nice":false,"zero":false},"axis":{"values":[0,8,16,24],"labels":false,"title":null}},"color":{"field":"s","type":"nominal"}}},
{"width":92,"height":75,"transform":[{"filter":"datum.d=='Travel Time'&&datum.m=='R'"}],"mark":"line","encoding":{"x":{"field":"x","type":"quantitative","scale":{"domain":[-0.0025,0.0525],"nice":false,"zero":false},"axis":{"values":[0,0.01,0.02,0.03,0.04,0.05],"labelExpr":"datum.value==0?'0.0':datum.value==0.05?'0.05':''","title":null}},"y":{"field":"y","type":"quantitative","scale":{"domain":[-0.3,28.3],"nice":false,"zero":false},"axis":{"values":[0,8,16,24],"labels":false,"title":null}},"color":{"field":"s","type":"nominal"}}},
{"width":92,"height":75,"transform":[{"filter":"datum.d=='Public Coverage'&&datum.m=='R'"}],"mark":"line","encoding":{"x":{"field":"x","type":"quantitative","scale":{"domain":[-0.0025,0.0525],"nice":false,"zero":false},"axis":{"values":[0,0.01,0.02,0.03,0.04,0.05],"labelExpr":"datum.value==0?'0.0':datum.value==0.05?'0.05':''","title":null}},"y":{"field":"y","type":"quantitative","scale":{"domain":[-0.3,28.3],"nice":false,"zero":false},"axis":{"values":[0,8,16,24],"labels":false,"title":null}},"color":{"field":"s","type":"nominal"}}},
{"width":92,"height":75,"transform":[{"filter":"datum.d=='Mobility'&&datum.m=='R'"}],"mark":"line","encoding":{"x":{"field":"x","type":"quantitative","scale":{"domain":[-0.0025,0.0525],"nice":false,"zero":false},"axis":{"values":[0,0.01,0.02,0.03,0.04,0.05],"labelExpr":"datum.value==0?'0.0':datum.value==0.05?'0.05':''","title":null}},"y":{"field":"y","type":"quantitative","scale":{"domain":[-0.3,28.3],"nice":false,"zero":false},"axis":{"values":[0,8,16,24],"labels":false,"title":null}},"color":{"field":"s","type":"nominal"}}}
],
"config":{
 "font":"Liberation Serif",
 "view":{"stroke":null},
 "line":{"strokeWidth":2.7,"interpolate":"step-after","strokeCap":"square"},
 "range":{"category":["#1f77b4","#ff7f0e"]},
 "axis":{"grid":false,"domainColor":"#000","domainWidth":1.8,"tickColor":"#000","tickWidth":1.6,"tickSize":8,"labelFont":"Liberation Serif","labelFontSize":20,"labelColor":"#000","labelPadding":8,"labelFlush":false,"labelOverlap":false,"titleFont":"Liberation Serif, DejaVu Serif","titleFontSize":21,"titleFontWeight":"normal","titleColor":"#000","titleLineHeight":24,"titlePadding":8},
 "title":{"font":"Liberation Serif","fontSize":22,"fontWeight":"normal","color":"#000","offset":7,"lineHeight":23,"frame":"group"},
 "legend":{"orient":"none","legendX":210,"legendY":431,"direction":"horizontal","symbolType":"stroke","symbolSize":2025,"symbolStrokeWidth":3,"labelFont":"Liberation Serif","labelFontSize":22,"labelColor":"#000","labelOffset":14,"columnPadding":40,"title":null}
}
}
